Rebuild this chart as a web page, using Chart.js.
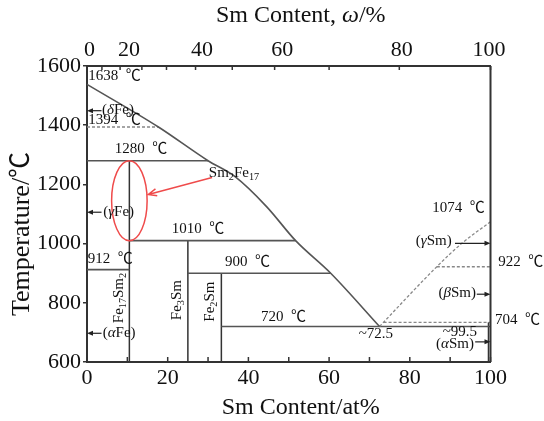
<!DOCTYPE html>
<html>
<head>
<meta charset="utf-8">
<script src="https://cdn.jsdelivr.net/npm/chart.js@4.4.0/dist/chart.umd.min.js"></script>
<style>
  html, body { margin: 0; padding: 0; background: #fff; }
  #wrap { width: 544px; height: 421px; }
</style>
</head>
<body>
<div id="wrap"><canvas id="c" width="544" height="421"></canvas></div>
<script>
// Fe–Sm binary phase diagram: composition in at% Sm, temperature in °C

// Fe-side liquidus, from pure Fe down to the eutectic
const liquidusFeAt   = [0, 17.7, 30, 36.7, 44.5, 51.7, 60.4, 72.5];
const liquidusFeTemp = [1538, 1394, 1280, 1226, 1125, 1010, 900, 720];

// Sm-side liquidus / transition boundary, from the eutectic up to pure Sm
const liquidusSmAt   = [72.5, 86.7, 92.9, 100];
const liquidusSmTemp = [720, 922, 1001, 1074];

// Invariant reactions (solid lines): temperature and composition span
const invariantTemp = [1280, 1010, 912, 900, 720];
const invariantFrom = [0, 10.5, 0, 25, 33.3];
const invariantTo   = [30, 51.7, 10.5, 60.4, 100];

// Allotropic transitions (dashed lines)
const transitionTemp = [1394, 922, 734];
const transitionFrom = [0, 86.7, 73.5];
const transitionTo   = [17.7, 100, 100];

// Intermetallic compounds: Fe17Sm2, Fe3Sm, Fe2Sm
const compoundAt   = [10.5, 25, 33.3];
const compoundTop  = [1280, 1010, 900];
const baseTemp     = 600;

// Sm-rich solvus
const solvusSmAt   = [99.5, 99.5];
const solvusSmTemp = [734, 600];

// Axis ticks
const tempTicks   = [600, 800, 1000, 1200, 1400, 1600];
const atTicks     = [0, 10, 20, 30, 40, 50, 60, 70, 80, 90, 100];
const atLabels    = ['0', '', '20', '', '40', '', '60', '', '80', '', '100'];
const wtTickAt    = [0, 3.7, 8.2, 13.6, 19.7, 26.9, 36.0, 46.5, 60.0, 77.4, 100];
const wtLabelAt   = [0.6, 10.4, 28.5, 48.4, 78.0, 99.6];
const wtLabels    = ['0', '20', '40', '60', '80', '100'];

// Phase arrows pointing to the pure-element axes
const arrowTemp = [1449, 1106, 697, 1001, 829, 668];
const arrowFrom = [3.6, 3.6, 3.6, 91.2, 96.6, 96.2];
const arrowTo   = [0, 0, 0, 100, 100, 100];

const SERIF = '"Liberation Serif", "Times New Roman", "Noto Sans CJK SC", serif';
const LINE = '#555';
const DARK = '#333';

function seg(xs, ys, color, width, dash) {
  return {
    data: xs.map((x, i) => ({ x: x, y: ys[i] })),
    showLine: true, pointRadius: 0, borderColor: color, borderWidth: width,
    borderDash: dash || [], xAxisID: 'x', yAxisID: 'y', clip: false
  };
}

const datasets = [];
const liq = seg(liquidusFeAt, liquidusFeTemp, LINE, 1.6);
liq.cubicInterpolationMode = 'monotone';
datasets.push(liq);
const liqSm = seg(liquidusSmAt, liquidusSmTemp, '#888', 1.3, [3, 2]);
liqSm.cubicInterpolationMode = 'monotone';
datasets.push(liqSm);
invariantTemp.forEach((t, i) =>
  datasets.push(seg([invariantFrom[i], invariantTo[i]], [t, t], LINE, 1.6)));
transitionTemp.forEach((t, i) =>
  datasets.push(seg([transitionFrom[i], transitionTo[i]], [t, t], '#888', 1.4, [3, 2])));
compoundAt.forEach((x, i) =>
  datasets.push(seg([x, x], [compoundTop[i], baseTemp], DARK, 1.5)));
datasets.push(seg(solvusSmAt, solvusSmTemp, DARK, 1.5));

// Text annotations: parts are [text, style] with style '' | 'i' (italic) | 's' (subscript)
const notes = [
  { x: 0.3,  t: 1566, align: 'left',  parts: [['1638  ℃', '']] },
  { x: 3.7,  t: 1451, align: 'left',  parts: [['(', ''], ['δ', 'i'], ['Fe)', '']] },
  { x: 0.3,  t: 1418, align: 'left',  parts: [['1394  ℃', '']] },
  { x: 6.9,  t: 1318, align: 'left',  parts: [['1280  ℃', '']] },
  { x: 30.2, t: 1238, align: 'left',  parts: [['Sm', ''], ['2', 's'], ['Fe', ''], ['17', 's']] },
  { x: 4.0,  t: 1107, align: 'left',  parts: [['(', ''], ['γ', 'i'], ['Fe)', '']] },
  { x: 21.0, t: 1048, align: 'left',  parts: [['1010  ℃', '']] },
  { x: 0.2,  t: 948,  align: 'left',  parts: [['912  ℃', '']] },
  { x: 34.2, t: 939,  align: 'left',  parts: [['900  ℃', '']] },
  { x: 43.1, t: 753,  align: 'left',  parts: [['720  ℃', '']] },
  { x: 3.9,  t: 699,  align: 'left',  parts: [['(', ''], ['α', 'i'], ['Fe)', '']] },
  { x: 7.9,  t: 816,  align: 'center', rot: true, parts: [['Fe', ''], ['17', 's'], ['Sm', ''], ['2', 's']] },
  { x: 22.2, t: 809,  align: 'center', rot: true, parts: [['Fe', ''], ['3', 's'], ['Sm', '']] },
  { x: 30.5, t: 804,  align: 'center', rot: true, parts: [['Fe', ''], ['2', 's'], ['Sm', '']] },
  { x: 98.6, t: 1119, align: 'right', parts: [['1074  ℃', '']] },
  { x: 90.4, t: 1009, align: 'right', parts: [['(', ''], ['γ', 'i'], ['Sm)', '']] },
  { x: 101.9, t: 939, align: 'left',  parts: [['922  ℃', '']] },
  { x: 96.4, t: 832,  align: 'right', parts: [['(', ''], ['β', 'i'], ['Sm)', '']] },
  { x: 101.1, t: 742, align: 'left',  parts: [['704  ℃', '']] },
  { x: 71.6, t: 695,  align: 'center', parts: [['~72.5', '']] },
  { x: 92.4, t: 702,  align: 'center', parts: [['~99.5', '']] },
  { x: 91.2, t: 661,  align: 'center', parts: [['(', ''], ['α', 'i'], ['Sm)', '']] }
];

function fontFor(style, size) {
  if (style === 's') return (size * 0.68).toFixed(1) + 'px ' + SERIF;
  if (style === 'i') return 'italic ' + size + 'px ' + SERIF;
  return size + 'px ' + SERIF;
}

function drawRich(ctx, parts, x, y, align, size) {
  let total = 0;
  const widths = parts.map(p => {
    ctx.font = fontFor(p[1], size);
    const w = ctx.measureText(p[0]).width;
    total += w;
    return w;
  });
  let cx = align === 'left' ? x : align === 'right' ? x - total : x - total / 2;
  ctx.textAlign = 'left';
  ctx.textBaseline = 'middle';
  parts.forEach((p, i) => {
    ctx.font = fontFor(p[1], size);
    ctx.fillText(p[0], cx, p[1] === 's' ? y + size * 0.3 : y);
    cx += widths[i];
  });
}

const diagramPlugin = {
  id: 'diagram',
  afterDatasetsDraw(chart) {
    const ctx = chart.ctx;
    const xs = chart.scales.x, ys = chart.scales.y, x2 = chart.scales.x2;
    const area = chart.chartArea;
    ctx.save();

    // frame: right border
    ctx.strokeStyle = DARK;
    ctx.lineWidth = 2;
    ctx.beginPath();
    ctx.moveTo(area.right, area.top);
    ctx.lineTo(area.right, area.bottom);
    ctx.stroke();

    // inward tick marks on the bottom and top axes
    ctx.lineWidth = 1.5;
    atTicks.forEach(v => {
      const px = xs.getPixelForValue(v);
      ctx.beginPath();
      ctx.moveTo(px, area.bottom);
      ctx.lineTo(px, area.bottom - 5);
      ctx.stroke();
    });
    wtTickAt.forEach(v => {
      const px = x2.getPixelForValue(v);
      ctx.beginPath();
      ctx.moveTo(px, area.top);
      ctx.lineTo(px, area.top + 4);
      ctx.stroke();
    });

    // phase arrows
    ctx.fillStyle = '#222';
    ctx.strokeStyle = '#222';
    ctx.lineWidth = 1.2;
    arrowTemp.forEach((t, i) => {
      const py = ys.getPixelForValue(t);
      const a = xs.getPixelForValue(arrowFrom[i]);
      const b = xs.getPixelForValue(arrowTo[i]);
      const dir = b > a ? 1 : -1;
      ctx.beginPath();
      ctx.moveTo(a, py);
      ctx.lineTo(b - dir * 4, py);
      ctx.stroke();
      ctx.beginPath();
      ctx.moveTo(b, py);
      ctx.lineTo(b - dir * 6, py - 2.5);
      ctx.lineTo(b - dir * 6, py + 2.5);
      ctx.closePath();
      ctx.fill();
    });

    // highlight around Fe17Sm2 and its pointer
    ctx.strokeStyle = '#ef4b4b';
    ctx.lineWidth = 1.5;
    const ecx = xs.getPixelForValue(10.5), ecy = ys.getPixelForValue(1145);
    const erx = xs.getPixelForValue(14.9) - ecx;
    const ery = ys.getPixelForValue(1010) - ecy;
    ctx.beginPath();
    ctx.ellipse(ecx, ecy, erx, ery, 0, 0, Math.PI * 2);
    ctx.stroke();
    const ax = xs.getPixelForValue(31.0), ay = ys.getPixelForValue(1223);
    const bx = xs.getPixelForValue(15.2), by = ys.getPixelForValue(1166);
    ctx.beginPath();
    ctx.moveTo(ax, ay);
    ctx.lineTo(bx, by);
    const ang = Math.atan2(by - ay, bx - ax);
    ctx.moveTo(bx - 9 * Math.cos(ang - 0.4), by - 9 * Math.sin(ang - 0.4));
    ctx.lineTo(bx, by);
    ctx.lineTo(bx - 9 * Math.cos(ang + 0.4), by - 9 * Math.sin(ang + 0.4));
    ctx.stroke();

    // annotations
    ctx.fillStyle = '#111';
    notes.forEach(n => {
      const px = xs.getPixelForValue(n.x), py = ys.getPixelForValue(n.t);
      if (n.rot) {
        ctx.save();
        ctx.translate(px, py);
        ctx.rotate(-Math.PI / 2);
        drawRich(ctx, n.parts, 0, 0, 'center', 15);
        ctx.restore();
      } else {
        drawRich(ctx, n.parts, px, py, n.align, 15);
      }
    });

    // axis titles
    const mid = (area.left + area.right) / 2 + 12;
    ctx.fillStyle = '#111';
    drawRich(ctx, [['Sm Content, ', ''], ['ω', 'i'], ['/%', '']], mid, 16, 'center', 24);
    drawRich(ctx, [['Sm Content/at%', '']], mid, 408, 'center', 24);
    ctx.save();
    ctx.translate(22, (area.top + area.bottom) / 2 + 20);
    ctx.rotate(-Math.PI / 2);
    drawRich(ctx, [['Temperature/℃', '']], 0, 0, 'center', 26);
    ctx.restore();

    ctx.restore();
  }
};

new Chart(document.getElementById('c'), {
  type: 'scatter',
  data: { datasets: datasets },
  options: {
    responsive: false,
    animation: false,
    events: [],
    layout: { padding: { left: 0, right: 53.5, top: 0, bottom: 0 } },
    plugins: { legend: { display: false }, tooltip: { enabled: false } },
    scales: {
      x: {
        type: 'linear', position: 'bottom', min: 0, max: 100,
        afterBuildTicks: s => { s.ticks = atTicks.map(v => ({ value: v })); },
        afterFit: s => { s.height = 59; },
        ticks: {
          autoSkip: false, maxRotation: 0, padding: 3, color: '#111',
          font: { family: SERIF, size: 22 },
          callback: (v) => atLabels[atTicks.indexOf(v)]
        },
        grid: { drawOnChartArea: false, drawTicks: false },
        border: { color: DARK, width: 2 }
      },
      x2: {
        type: 'linear', position: 'top', min: 0, max: 100,
        afterBuildTicks: s => { s.ticks = wtLabelAt.map(v => ({ value: v })); },
        afterFit: s => { s.height = 66; },
        ticks: {
          autoSkip: false, maxRotation: 0, padding: 3, color: '#111',
          font: { family: SERIF, size: 22 },
          callback: (v) => wtLabels[wtLabelAt.indexOf(v)]
        },
        grid: { drawOnChartArea: false, drawTicks: false },
        border: { color: DARK, width: 2 }
      },
      y: {
        type: 'linear', position: 'left', min: 600, max: 1600,
        afterBuildTicks: s => { s.ticks = tempTicks.map(v => ({ value: v })); },
        afterFit: s => { s.width = 87; },
        ticks: {
          padding: 2, color: '#111',
          font: { family: SERIF, size: 22 },
          callback: (v) => String(v)
        },
        grid: { drawOnChartArea: false, drawTicks: true, tickLength: 4, color: DARK, lineWidth: 1.5 },
        border: { color: DARK, width: 2 }
      }
    }
  },
  plugins: [diagramPlugin]
});
</script>
</body>
</html>
